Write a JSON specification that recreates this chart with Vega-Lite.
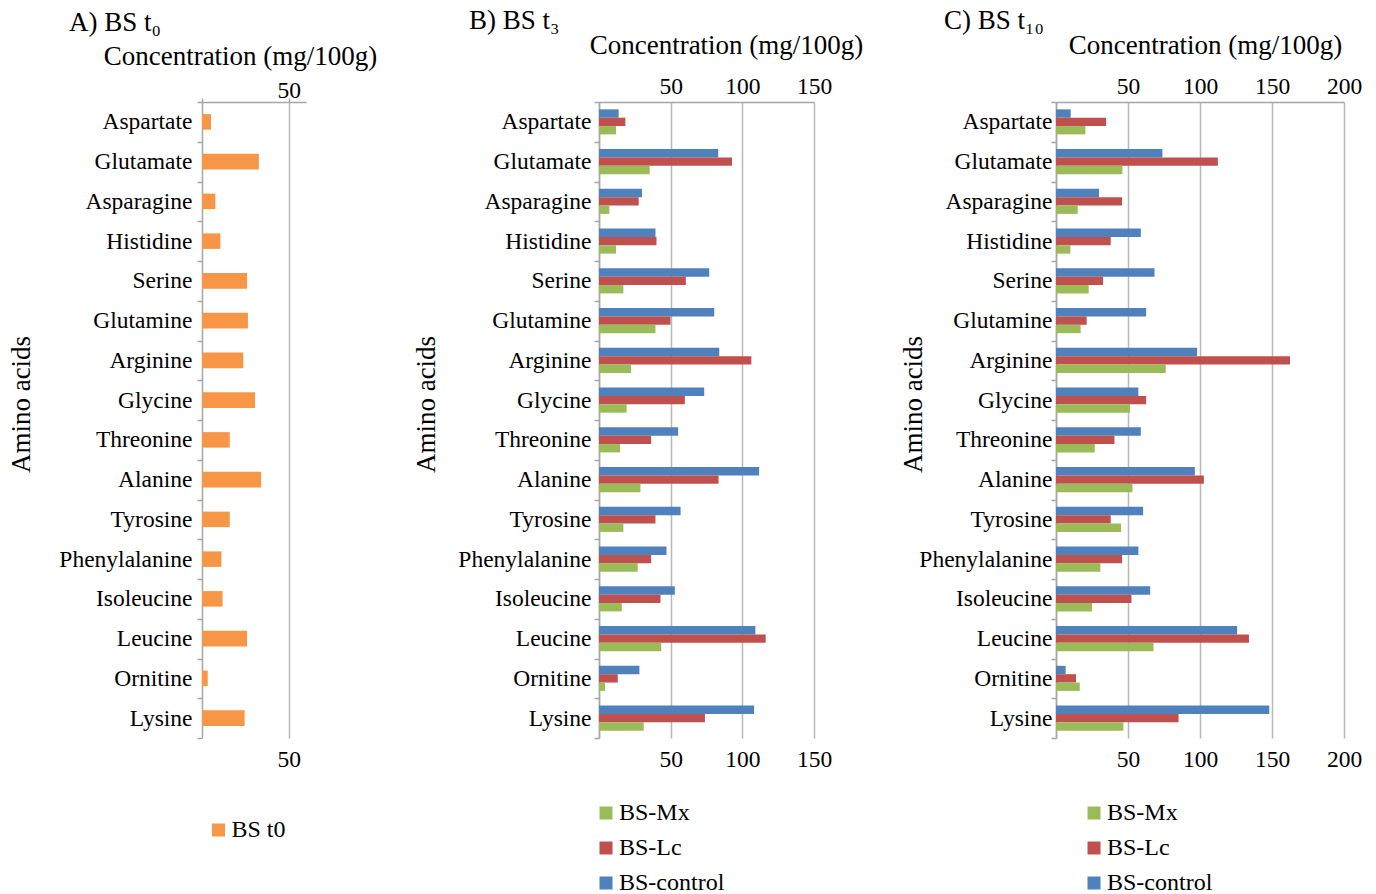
{
  "$schema": "https://vega.github.io/schema/vega-lite/v6.json",
  "padding": {"left": 7, "top": 6, "right": 10, "bottom": 5},
  "background": "white",
  "datasets": {
    "t0": [
      {"amino": "Aspartate", "series": "BS t0", "value": 5.2},
      {"amino": "Glutamate", "series": "BS t0", "value": 32.8},
      {"amino": "Asparagine", "series": "BS t0", "value": 7.7},
      {"amino": "Histidine", "series": "BS t0", "value": 10.6},
      {"amino": "Serine", "series": "BS t0", "value": 26},
      {"amino": "Glutamine", "series": "BS t0", "value": 26.5},
      {"amino": "Arginine", "series": "BS t0", "value": 23.8},
      {"amino": "Glycine", "series": "BS t0", "value": 30.6},
      {"amino": "Threonine", "series": "BS t0", "value": 16},
      {"amino": "Alanine", "series": "BS t0", "value": 34.1},
      {"amino": "Tyrosine", "series": "BS t0", "value": 16},
      {"amino": "Phenylalanine", "series": "BS t0", "value": 11.2},
      {"amino": "Isoleucine", "series": "BS t0", "value": 11.9},
      {"amino": "Leucine", "series": "BS t0", "value": 26},
      {"amino": "Ornitine", "series": "BS t0", "value": 3.3},
      {"amino": "Lysine", "series": "BS t0", "value": 24.6}
    ],
    "t3": [
      {"amino": "Aspartate", "series": "BS-control", "value": 13.7},
      {"amino": "Aspartate", "series": "BS-Lc", "value": 18.4},
      {"amino": "Aspartate", "series": "BS-Mx", "value": 11.9},
      {"amino": "Glutamate", "series": "BS-control", "value": 83.2},
      {"amino": "Glutamate", "series": "BS-Lc", "value": 92.8},
      {"amino": "Glutamate", "series": "BS-Mx", "value": 35.4},
      {"amino": "Asparagine", "series": "BS-control", "value": 30},
      {"amino": "Asparagine", "series": "BS-Lc", "value": 27.7},
      {"amino": "Asparagine", "series": "BS-Mx", "value": 7.2},
      {"amino": "Histidine", "series": "BS-control", "value": 39.4},
      {"amino": "Histidine", "series": "BS-Lc", "value": 40.1},
      {"amino": "Histidine", "series": "BS-Mx", "value": 11.9},
      {"amino": "Serine", "series": "BS-control", "value": 76.9},
      {"amino": "Serine", "series": "BS-Lc", "value": 60.6},
      {"amino": "Serine", "series": "BS-Mx", "value": 17},
      {"amino": "Glutamine", "series": "BS-control", "value": 80.4},
      {"amino": "Glutamine", "series": "BS-Lc", "value": 49.9},
      {"amino": "Glutamine", "series": "BS-Mx", "value": 39.4},
      {"amino": "Arginine", "series": "BS-control", "value": 83.9},
      {"amino": "Arginine", "series": "BS-Lc", "value": 106.3},
      {"amino": "Arginine", "series": "BS-Mx", "value": 22.4},
      {"amino": "Glycine", "series": "BS-control", "value": 73.4},
      {"amino": "Glycine", "series": "BS-Lc", "value": 59.9},
      {"amino": "Glycine", "series": "BS-Mx", "value": 19.3},
      {"amino": "Threonine", "series": "BS-control", "value": 55.2},
      {"amino": "Threonine", "series": "BS-Lc", "value": 36.4},
      {"amino": "Threonine", "series": "BS-Mx", "value": 14.7},
      {"amino": "Alanine", "series": "BS-control", "value": 111.7},
      {"amino": "Alanine", "series": "BS-Lc", "value": 83.4},
      {"amino": "Alanine", "series": "BS-Mx", "value": 28.9},
      {"amino": "Tyrosine", "series": "BS-control", "value": 56.9},
      {"amino": "Tyrosine", "series": "BS-Lc", "value": 39.4},
      {"amino": "Tyrosine", "series": "BS-Mx", "value": 17},
      {"amino": "Phenylalanine", "series": "BS-control", "value": 47.1},
      {"amino": "Phenylalanine", "series": "BS-Lc", "value": 36.4},
      {"amino": "Phenylalanine", "series": "BS-Mx", "value": 27},
      {"amino": "Isoleucine", "series": "BS-control", "value": 52.9},
      {"amino": "Isoleucine", "series": "BS-Lc", "value": 42.9},
      {"amino": "Isoleucine", "series": "BS-Mx", "value": 15.9},
      {"amino": "Leucine", "series": "BS-control", "value": 109.1},
      {"amino": "Leucine", "series": "BS-Lc", "value": 116.3},
      {"amino": "Leucine", "series": "BS-Mx", "value": 43.4},
      {"amino": "Ornitine", "series": "BS-control", "value": 28.2},
      {"amino": "Ornitine", "series": "BS-Lc", "value": 13.1},
      {"amino": "Ornitine", "series": "BS-Mx", "value": 4.2},
      {"amino": "Lysine", "series": "BS-control", "value": 108.2},
      {"amino": "Lysine", "series": "BS-Lc", "value": 73.9},
      {"amino": "Lysine", "series": "BS-Mx", "value": 31.2}
    ],
    "t10": [
      {"amino": "Aspartate", "series": "BS-control", "value": 10.2},
      {"amino": "Aspartate", "series": "BS-Lc", "value": 34.8},
      {"amino": "Aspartate", "series": "BS-Mx", "value": 20.4},
      {"amino": "Glutamate", "series": "BS-control", "value": 73.9},
      {"amino": "Glutamate", "series": "BS-Lc", "value": 112.4},
      {"amino": "Glutamate", "series": "BS-Mx", "value": 46.1},
      {"amino": "Asparagine", "series": "BS-control", "value": 29.9},
      {"amino": "Asparagine", "series": "BS-Lc", "value": 45.9},
      {"amino": "Asparagine", "series": "BS-Mx", "value": 15.1},
      {"amino": "Histidine", "series": "BS-control", "value": 58.9},
      {"amino": "Histidine", "series": "BS-Lc", "value": 38},
      {"amino": "Histidine", "series": "BS-Mx", "value": 10},
      {"amino": "Serine", "series": "BS-control", "value": 68.4},
      {"amino": "Serine", "series": "BS-Lc", "value": 32.7},
      {"amino": "Serine", "series": "BS-Mx", "value": 22.7},
      {"amino": "Glutamine", "series": "BS-control", "value": 62.6},
      {"amino": "Glutamine", "series": "BS-Lc", "value": 21.3},
      {"amino": "Glutamine", "series": "BS-Mx", "value": 17.1},
      {"amino": "Arginine", "series": "BS-control", "value": 98},
      {"amino": "Arginine", "series": "BS-Lc", "value": 162.5},
      {"amino": "Arginine", "series": "BS-Mx", "value": 76.2},
      {"amino": "Glycine", "series": "BS-control", "value": 57.2},
      {"amino": "Glycine", "series": "BS-Lc", "value": 62.6},
      {"amino": "Glycine", "series": "BS-Mx", "value": 51.4},
      {"amino": "Threonine", "series": "BS-control", "value": 58.9},
      {"amino": "Threonine", "series": "BS-Lc", "value": 40.6},
      {"amino": "Threonine", "series": "BS-Mx", "value": 26.9},
      {"amino": "Alanine", "series": "BS-control", "value": 96.4},
      {"amino": "Alanine", "series": "BS-Lc", "value": 102.7},
      {"amino": "Alanine", "series": "BS-Mx", "value": 53.1},
      {"amino": "Tyrosine", "series": "BS-control", "value": 60.5},
      {"amino": "Tyrosine", "series": "BS-Lc", "value": 38},
      {"amino": "Tyrosine", "series": "BS-Mx", "value": 45.2},
      {"amino": "Phenylalanine", "series": "BS-control", "value": 57.2},
      {"amino": "Phenylalanine", "series": "BS-Lc", "value": 45.9},
      {"amino": "Phenylalanine", "series": "BS-Mx", "value": 30.8},
      {"amino": "Isoleucine", "series": "BS-control", "value": 65.4},
      {"amino": "Isoleucine", "series": "BS-Lc", "value": 52.4},
      {"amino": "Isoleucine", "series": "BS-Mx", "value": 25},
      {"amino": "Leucine", "series": "BS-control", "value": 125.8},
      {"amino": "Leucine", "series": "BS-Lc", "value": 134},
      {"amino": "Leucine", "series": "BS-Mx", "value": 67.7},
      {"amino": "Ornitine", "series": "BS-control", "value": 6.7},
      {"amino": "Ornitine", "series": "BS-Lc", "value": 13.9},
      {"amino": "Ornitine", "series": "BS-Mx", "value": 16.5},
      {"amino": "Lysine", "series": "BS-control", "value": 148.1},
      {"amino": "Lysine", "series": "BS-Lc", "value": 85.1},
      {"amino": "Lysine", "series": "BS-Mx", "value": 46.8}
    ]
  },
  "bounds": "flush",
  "spacing": 293,
  "hconcat": [
    {
      "width": 104,
      "height": 636,
      "data": {"name": "t0"},
      "title": {"text": "A) BS t₀", "dx": -133, "offset": -16, "baseline": "alphabetic"},
      "layer": [
        {
          "mark": {"type": "bar", "height": {"band": 0.39}},
          "encoding": {
            "y": {"field": "amino", "type": "nominal", "sort": null,
              "scale": {"paddingInner": 0, "paddingOuter": 0},
              "axis": {"title": "Amino acids", "tickBand": "extent", "tickSize": 5, "labelPadding": 5, "titlePadding": 23, "titleY": 302}},
            "x": {"field": "value", "type": "quantitative", "scale": {"domain": [0, 60], "nice": false},
              "axis": {"orient": "top", "values": [0, 50], "labelExpr": "datum.value == 0 ? '' : datum.label", "grid": false, "ticks": true, "tickSize": 4, "labelPadding": 1, "labelBaseline": "alphabetic", "title": "Concentration (mg/100g)", "titlePadding": 8, "titleX": 38, "titleAlign": "center"}},
            "color": {"field": "series", "type": "nominal", "scale": {"domain": ["BS t0"], "range": ["#F79646"]},
              "legend": {"orient": "none", "legendX": 4.5, "legendY": 716}}
          }
        },
        {
          "mark": {"type": "bar", "height": {"band": 0.39}, "opacity": 0},
          "encoding": {
            "y": {"field": "amino", "type": "nominal", "sort": null},
            "x": {"field": "value", "type": "quantitative",
              "axis": {"orient": "bottom", "values": [50], "grid": true, "domain": false, "ticks": false, "tickSize": 0, "labelPadding": 9, "title": null}}
          }
        }
      ],
      "resolve": {"axis": {"x": "independent"}}
    },
    {
      "bounds": "flush",
      "spacing": 242,
      "hconcat": [
        {
          "width": 215,
          "height": 636,
          "data": {"name": "t3"},
          "title": {"text": "B) BS t₃", "dx": -130, "offset": -24, "baseline": "alphabetic"},
          "layer": [
            {
              "mark": {"type": "bar"},
              "encoding": {
                "y": {"field": "amino", "type": "nominal", "sort": null,
                  "scale": {"paddingInner": 0, "paddingOuter": 0},
                  "axis": {"title": "Amino acids", "tickBand": "extent", "tickSize": 5, "labelPadding": 3, "titlePadding": 17, "titleY": 302}},
                "yOffset": {"field": "series", "type": "nominal", "sort": ["BS-control", "BS-Lc", "BS-Mx"], "scale": {"paddingInner": 0, "paddingOuter": 0.88}},
                "x": {"field": "value", "type": "quantitative", "scale": {"domain": [0, 150], "nice": false},
                  "axis": {"orient": "top", "values": [0, 50, 100, 150], "labelExpr": "datum.value == 0 ? '' : datum.label", "grid": false, "ticks": false, "tickSize": 0, "labelPadding": 8.5, "labelBaseline": "alphabetic", "title": "Concentration (mg/100g)", "titlePadding": 15, "titleX": 127, "titleAlign": "center"}},
                "color": {"field": "series", "type": "nominal", "scale": {"domain": ["BS-Mx", "BS-Lc", "BS-control"], "range": ["#9BBB59", "#C0504D", "#4F81BD"]},
                  "legend": {"orient": "none", "legendX": -5, "legendY": 699}}
              }
            },
            {
              "mark": {"type": "bar", "opacity": 0},
              "encoding": {
                "y": {"field": "amino", "type": "nominal", "sort": null},
                "yOffset": {"field": "series", "type": "nominal", "sort": ["BS-control", "BS-Lc", "BS-Mx"]},
                "x": {"field": "value", "type": "quantitative",
                  "axis": {"orient": "bottom", "values": [0, 50, 100, 150], "labelExpr": "datum.value == 0 ? '' : datum.label", "grid": true, "domain": false, "ticks": false, "tickSize": 0, "labelPadding": 9, "title": null}}
              }
            }
          ],
          "resolve": {"axis": {"x": "independent"}}
        },
        {
          "width": 288,
          "height": 636,
          "data": {"name": "t10"},
          "title": {"text": "C) BS t₁₀", "dx": -112, "offset": -24, "baseline": "alphabetic"},
          "layer": [
            {
              "mark": {"type": "bar"},
              "encoding": {
                "y": {"field": "amino", "type": "nominal", "sort": null,
                  "scale": {"paddingInner": 0, "paddingOuter": 0},
                  "axis": {"title": "Amino acids", "tickBand": "extent", "tickSize": 5, "labelPadding": -1, "titlePadding": -9, "titleY": 302}},
                "yOffset": {"field": "series", "type": "nominal", "sort": ["BS-control", "BS-Lc", "BS-Mx"], "scale": {"paddingInner": 0, "paddingOuter": 0.88}},
                "x": {"field": "value", "type": "quantitative", "scale": {"domain": [0, 200], "nice": false},
                  "axis": {"orient": "top", "values": [0, 50, 100, 150, 200], "labelExpr": "datum.value == 0 ? '' : datum.label", "grid": false, "ticks": false, "tickSize": 0, "labelPadding": 8.5, "labelBaseline": "alphabetic", "title": "Concentration (mg/100g)", "titlePadding": 15, "titleX": 149, "titleAlign": "center"}},
                "color": {"field": "series", "type": "nominal", "scale": {"domain": ["BS-Mx", "BS-Lc", "BS-control"], "range": ["#9BBB59", "#C0504D", "#4F81BD"]},
                  "legend": {"orient": "none", "legendX": 26, "legendY": 699}}
              }
            },
            {
              "mark": {"type": "bar", "opacity": 0},
              "encoding": {
                "y": {"field": "amino", "type": "nominal", "sort": null},
                "yOffset": {"field": "series", "type": "nominal", "sort": ["BS-control", "BS-Lc", "BS-Mx"]},
                "x": {"field": "value", "type": "quantitative",
                  "axis": {"orient": "bottom", "values": [0, 50, 100, 150, 200], "labelExpr": "datum.value == 0 ? '' : datum.label", "grid": true, "domain": false, "ticks": false, "tickSize": 0, "labelPadding": 9, "title": null}}
              }
            }
          ],
          "resolve": {"axis": {"x": "independent"}}
        }
      ],
      "resolve": {"scale": {"color": "independent"}}
    }
  ],
  "resolve": {"scale": {"color": "independent"}, "legend": {"color": "independent"}},
  "config": {
    "font": "Liberation Serif",
    "view": {"stroke": null},
    "axis": {
      "labelFont": "Liberation Serif", "titleFont": "Liberation Serif",
      "labelColor": "#000000", "titleColor": "#000000",
      "labelFontSize": 23.5, "titleFontSize": 27, "titleFontWeight": "normal",
      "domainColor": "#a6a6a6", "domainWidth": 1.5,
      "tickColor": "#a6a6a6", "tickWidth": 1.5,
      "gridColor": "#b8b8b8", "gridWidth": 1.5,
      "labelOverlap": false, "labelFlush": false
    },
    "axisQuantitative": {"labelFont": "Liberation Serif", "titleFont": "Liberation Serif"},
    "axisBand": {"labelFont": "Liberation Serif", "titleFont": "Liberation Serif"},
    "title": {"font": "Liberation Serif", "fontSize": 27, "fontWeight": "normal", "color": "#000000", "anchor": "start", "frame": "group"},
    "legend": {
      "title": null, "symbolType": "square", "symbolSize": 169, "symbolStrokeWidth": 0, "symbolOpacity": 1,
      "labelFont": "Liberation Serif", "labelFontSize": 24, "labelColor": "#000000",
      "rowPadding": 11, "labelOffset": 1, "padding": 0, "direction": "vertical"
    }
  }
}
